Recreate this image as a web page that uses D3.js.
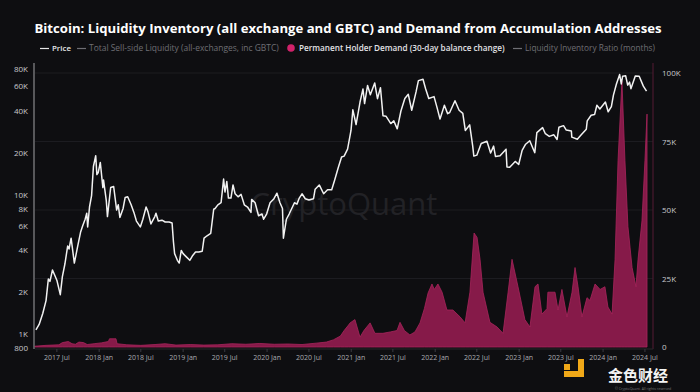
<!DOCTYPE html>
<html>
<head>
<meta charset="utf-8">
<script src="https://cdn.jsdelivr.net/npm/d3@7"></script>
<style>
  html, body { margin: 0; padding: 0; background: #0e0e11; }
  svg { display: block; }
</style>
</head>
<body>
<div id="chart"></div>
<script>
const width = 700;
const height = 392;

// price (USD)
const price = [
  ["2017-04-01", 1080], ["2017-04-15", 1180], ["2017-05-01", 1420], ["2017-05-15", 1750],
  ["2017-05-25", 2500], ["2017-06-01", 2400], ["2017-06-12", 2900], ["2017-06-20", 2700],
  ["2017-07-01", 2450], ["2017-07-16", 1930], ["2017-07-25", 2600], ["2017-08-05", 3200],
  ["2017-08-17", 4300], ["2017-08-23", 4100], ["2017-09-01", 4900], ["2017-09-15", 3250],
  ["2017-09-22", 3700], ["2017-10-01", 4400], ["2017-10-12", 5400], ["2017-10-21", 6000],
  ["2017-11-01", 6700], ["2017-11-08", 7400], ["2017-11-12", 5900], ["2017-11-20", 8200],
  ["2017-11-29", 9900], ["2017-12-07", 16000], ["2017-12-17", 19100], ["2017-12-22", 14000],
  ["2017-12-28", 14500], ["2018-01-06", 17100], ["2018-01-17", 11300], ["2018-01-20", 12800],
  ["2018-02-01", 9100], ["2018-02-06", 7000], ["2018-02-20", 11300], ["2018-03-05", 11500],
  ["2018-03-18", 7800], ["2018-03-25", 8500], ["2018-04-01", 6900], ["2018-04-15", 8000],
  ["2018-04-24", 9600], ["2018-05-05", 9700], ["2018-05-20", 8500], ["2018-06-01", 7500],
  ["2018-06-12", 6500], ["2018-06-29", 5900], ["2018-07-10", 6700], ["2018-07-24", 8200],
  ["2018-08-01", 7600], ["2018-08-14", 6200], ["2018-08-31", 7000], ["2018-09-05", 7400],
  ["2018-09-15", 6500], ["2018-10-01", 6600], ["2018-10-15", 6400], ["2018-11-01", 6400],
  ["2018-11-14", 6300], ["2018-11-20", 4600], ["2018-11-25", 3800], ["2018-12-07", 3400],
  ["2018-12-15", 3250], ["2018-12-24", 4000], ["2019-01-01", 3800], ["2019-01-15", 3600],
  ["2019-01-30", 3400], ["2019-02-10", 3650], ["2019-02-24", 3900], ["2019-03-10", 3900],
  ["2019-03-25", 3950], ["2019-04-02", 4900], ["2019-04-15", 5100], ["2019-05-01", 5300],
  ["2019-05-14", 7900], ["2019-05-20", 8000], ["2019-06-01", 8500], ["2019-06-15", 8800],
  ["2019-06-26", 13000], ["2019-07-02", 10500], ["2019-07-10", 12500], ["2019-07-17", 9500],
  ["2019-07-28", 9500], ["2019-08-06", 11800], ["2019-08-15", 10200], ["2019-08-28", 9700],
  ["2019-09-10", 10100], ["2019-09-24", 8500], ["2019-10-08", 8200], ["2019-10-23", 7500],
  ["2019-10-26", 9300], ["2019-11-10", 8800], ["2019-11-25", 7100], ["2019-12-10", 7300],
  ["2019-12-17", 6700], ["2019-12-30", 7300], ["2020-01-14", 8800], ["2020-01-31", 9400],
  ["2020-02-13", 10300], ["2020-02-26", 8800], ["2020-03-08", 8000], ["2020-03-12", 4900],
  ["2020-03-25", 6700], ["2020-04-06", 7300], ["2020-04-29", 8800], ["2020-05-10", 8600],
  ["2020-05-20", 9500], ["2020-06-01", 10200], ["2020-06-15", 9400], ["2020-07-01", 9200],
  ["2020-07-21", 9400], ["2020-07-28", 11000], ["2020-08-15", 11800], ["2020-09-03", 10200],
  ["2020-09-20", 10900], ["2020-10-08", 10900], ["2020-10-21", 12800], ["2020-11-05", 15600],
  ["2020-11-20", 18700], ["2020-12-01", 19000], ["2020-12-16", 21300], ["2020-12-31", 29000],
  ["2021-01-08", 40800], ["2021-01-22", 32000], ["2021-02-08", 46200], ["2021-02-21", 57500],
  ["2021-02-28", 45200], ["2021-03-13", 61000], ["2021-03-25", 52300], ["2021-04-13", 63500],
  ["2021-04-25", 49000], ["2021-05-08", 58800], ["2021-05-19", 37000], ["2021-06-01", 36700],
  ["2021-06-22", 32500], ["2021-07-05", 34000], ["2021-07-20", 29800], ["2021-08-05", 40000],
  ["2021-08-22", 49200], ["2021-09-06", 52700], ["2021-09-21", 40500], ["2021-10-10", 55000],
  ["2021-10-20", 66000], ["2021-11-09", 67500], ["2021-11-20", 58000], ["2021-12-04", 49200],
  ["2021-12-27", 50700], ["2022-01-10", 41800], ["2022-01-22", 35000], ["2022-02-10", 44000],
  ["2022-02-24", 38300], ["2022-03-05", 39000], ["2022-03-28", 47400], ["2022-04-15", 40500],
  ["2022-05-01", 38500], ["2022-05-12", 29000], ["2022-05-31", 31800], ["2022-06-13", 22500],
  ["2022-06-18", 19000], ["2022-07-01", 19300], ["2022-07-20", 23400], ["2022-08-14", 24300],
  ["2022-08-30", 20000], ["2022-09-12", 22400], ["2022-09-20", 18900], ["2022-10-10", 19100],
  ["2022-10-28", 20600], ["2022-11-05", 21300], ["2022-11-09", 15900], ["2022-11-21", 15800],
  ["2022-12-15", 17400], ["2022-12-30", 16550], ["2023-01-14", 20900], ["2023-01-28", 23000],
  ["2023-02-16", 24500], ["2023-03-10", 20100], ["2023-03-19", 28000], ["2023-04-13", 30400],
  ["2023-04-25", 27500], ["2023-05-12", 26300], ["2023-06-01", 27000], ["2023-06-15", 25000],
  ["2023-06-23", 30600], ["2023-07-13", 31400], ["2023-07-25", 29200], ["2023-08-16", 28800],
  ["2023-08-18", 26000], ["2023-09-11", 25100], ["2023-09-28", 27000], ["2023-10-20", 29600],
  ["2023-10-24", 34000], ["2023-11-10", 37300], ["2023-11-25", 37700], ["2023-12-05", 44000],
  ["2023-12-18", 41300], ["2024-01-11", 46400], ["2024-01-23", 39500], ["2024-02-06", 43000],
  ["2024-02-15", 52000], ["2024-02-28", 62500], ["2024-03-13", 73000], ["2024-03-20", 62500],
  ["2024-03-26", 71000], ["2024-04-08", 71600], ["2024-04-17", 61300], ["2024-04-25", 64500],
  ["2024-05-01", 57800], ["2024-05-20", 71400], ["2024-06-06", 71000], ["2024-06-24", 60300],
  ["2024-07-05", 56500], ["2024-07-08", 55500]
];

// permanent holder demand, 30-day balance change (BTC)
const demand = [
  ["2017-03-28", 300], ["2017-05-15", 600], ["2017-07-10", 800], ["2017-07-25", 1600],
  ["2017-08-20", 2000], ["2017-09-05", 1200], ["2017-09-20", 1000], ["2017-10-05", 1800],
  ["2017-10-25", 1600], ["2017-11-10", 900], ["2017-12-10", 1200], ["2018-01-10", 1500],
  ["2018-02-10", 2000], ["2018-02-15", 3000], ["2018-03-15", 3000], ["2018-03-20", 1200],
  ["2018-05-01", 800], ["2018-07-01", 600], ["2018-09-01", 900], ["2018-10-15", 1200],
  ["2018-12-01", 700], ["2019-02-01", 900], ["2019-04-01", 700], ["2019-06-01", 800],
  ["2019-08-01", 1200], ["2019-10-01", 1000], ["2019-12-01", 1300], ["2020-02-01", 1000],
  ["2020-04-01", 1100], ["2020-06-01", 900], ["2020-08-01", 1400], ["2020-09-15", 1800],
  ["2020-10-15", 2600], ["2020-11-15", 4000], ["2020-12-01", 6000], ["2020-12-20", 8000],
  ["2020-12-27", 8800], ["2021-01-17", 10000], ["2021-02-08", 3600], ["2021-02-25", 6000],
  ["2021-03-24", 8800], ["2021-04-14", 5000], ["2021-05-19", 5000], ["2021-06-20", 5500],
  ["2021-07-19", 6000], ["2021-08-01", 9000], ["2021-08-20", 6000], ["2021-09-13", 4400],
  ["2021-10-05", 5500], ["2021-10-27", 8800], ["2021-11-15", 14000], ["2021-12-01", 19700],
  ["2021-12-18", 23000], ["2021-12-28", 21000], ["2022-01-13", 23000], ["2022-01-31", 20000],
  ["2022-02-21", 13500], ["2022-03-19", 13500], ["2022-04-19", 11000], ["2022-05-11", 8800],
  ["2022-06-01", 20000], ["2022-06-19", 41600], ["2022-07-02", 40000], ["2022-07-15", 32000],
  ["2022-07-28", 20000], ["2022-08-27", 9000], ["2022-09-27", 7300], ["2022-10-23", 5000],
  ["2022-11-14", 20000], ["2022-12-01", 32000], ["2022-12-27", 22000], ["2023-01-26", 10000],
  ["2023-02-17", 7300], ["2023-03-11", 22000], ["2023-03-24", 23000], ["2023-04-10", 12000],
  ["2023-05-02", 14000], ["2023-05-06", 20000], ["2023-06-06", 20000], ["2023-06-19", 13500],
  ["2023-07-06", 21000], ["2023-07-28", 11000], ["2023-08-19", 20000], ["2023-09-01", 29000],
  ["2023-09-14", 22000], ["2023-10-01", 11000], ["2023-10-23", 18000], ["2023-11-05", 17000],
  ["2023-11-27", 23000], ["2023-12-19", 21000], ["2024-01-09", 22000], ["2024-01-22", 14600],
  ["2024-02-09", 12000], ["2024-02-22", 32000], ["2024-03-06", 68000], ["2024-03-23", 97000],
  ["2024-04-05", 68000], ["2024-04-18", 44000], ["2024-05-06", 29000], ["2024-05-23", 22000],
  ["2024-06-01", 32000], ["2024-06-18", 46000], ["2024-07-01", 68000], ["2024-07-10", 85000]
];

const leftTicks = [800, 1000, 2000, 4000, 6000, 8000, 10000, 20000, 40000, 60000, 80000];
const leftLabels = ["800", "1K", "2K", "4K", "6K", "8K", "10K", "20K", "40K", "60K", "80K"];
const rightTicks = [0, 25000, 50000, 75000, 100000];
const rightLabels = ["0", "25K", "50K", "75K", "100K"];
const xTickDates = ["2017-07-01", "2018-01-01", "2018-07-01", "2019-01-01", "2019-07-01",
  "2020-01-01", "2020-07-01", "2021-01-01", "2021-07-01", "2022-01-01", "2022-07-01",
  "2023-01-01", "2023-07-01", "2024-01-01", "2024-07-01"];

const title = "Bitcoin: Liquidity Inventory (all exchange and GBTC) and Demand from Accumulation Addresses";

const parse = d3.timeParse("%Y-%m-%d");
const priceData = price.map(d => ({ date: parse(d[0]), value: d[1] }));
const demandData = demand.map(d => ({ date: parse(d[0]), value: d[1] }));

const plotLeft = 35, plotRight = 653, plotTop = 63, plotBottom = 348;

const x = d3.scaleTime()
  .domain([parse("2017-03-28"), parse("2024-08-05")])
  .range([plotLeft, plotRight]);

const yLeft = d3.scaleLog()
  .domain([800, 80000])
  .range([348, 69]);

const yRight = d3.scaleLinear()
  .domain([0, 100000])
  .range([347, 73]);

const svg = d3.select("#chart")
  .append("svg")
  .attr("width", width)
  .attr("height", height)
  .style("background", "#0e0e11");

// faint horizontal grid from the right axis
svg.append("g")
  .selectAll("line")
  .data(rightTicks.slice(1))
  .join("line")
  .attr("x1", plotLeft)
  .attr("x2", plotRight)
  .attr("y1", d => yRight(d))
  .attr("y2", d => yRight(d))
  .attr("stroke", "#1c1c21")
  .attr("stroke-width", 1);

// watermark
svg.append("text")
  .attr("x", 344)
  .attr("y", 215)
  .attr("text-anchor", "middle")
  .attr("font-family", "'Open Sans', sans-serif")
  .attr("font-size", 31)
  .attr("fill", "#222226")
  .text("CryptoQuant");

// demand area
const area = d3.area()
  .x(d => x(d.date))
  .y0(yRight(0))
  .y1(d => yRight(d.value));

svg.append("path")
  .datum(demandData)
  .attr("d", area)
  .attr("fill", "#861a49")
  .attr("stroke", "#a8245c")
  .attr("stroke-width", 0.8);

// price line
const line = d3.line()
  .x(d => x(d.date))
  .y(d => yLeft(d.value));

svg.append("path")
  .datum(priceData)
  .attr("d", line)
  .attr("fill", "none")
  .attr("stroke", "#f2f2f2")
  .attr("stroke-width", 1.5)
  .attr("stroke-linejoin", "round");

// axes lines
svg.append("line")
  .attr("x1", 34).attr("x2", 34)
  .attr("y1", plotTop).attr("y2", plotBottom + 1)
  .attr("stroke", "#8a8a8e").attr("stroke-width", 1.2);

svg.append("line")
  .attr("x1", plotRight).attr("x2", plotRight)
  .attr("y1", plotTop).attr("y2", plotBottom + 1)
  .attr("stroke", "#4a1a30").attr("stroke-width", 1.2);

svg.append("line")
  .attr("x1", plotLeft).attr("x2", plotRight)
  .attr("y1", plotBottom + 1).attr("y2", plotBottom + 1)
  .attr("stroke", "#26262b").attr("stroke-width", 1);

const tickFont = "'Open Sans', sans-serif";

svg.append("g")
  .selectAll("text")
  .data(leftTicks)
  .join("text")
  .attr("x", 28)
  .attr("y", d => yLeft(d) + 3)
  .attr("text-anchor", "end")
  .attr("font-family", tickFont)
  .attr("font-size", 8)
  .attr("fill", "#c8c8cc")
  .text((d, i) => leftLabels[i]);

svg.append("g")
  .selectAll("text")
  .data(rightTicks)
  .join("text")
  .attr("x", 662)
  .attr("y", d => yRight(d) + 3)
  .attr("text-anchor", "start")
  .attr("font-family", tickFont)
  .attr("font-size", 8)
  .attr("fill", "#c8c8cc")
  .text((d, i) => rightLabels[i]);

const xTicks = svg.append("g")
  .selectAll("g")
  .data(xTickDates.map(parse))
  .join("g")
  .attr("transform", d => `translate(${x(d)},0)`);

xTicks.append("line")
  .attr("y1", plotBottom + 1)
  .attr("y2", plotBottom + 4)
  .attr("stroke", "#3a3a40");

xTicks.append("text")
  .attr("y", 360)
  .attr("text-anchor", "middle")
  .attr("font-family", tickFont)
  .attr("font-size", 7)
  .attr("fill", "#aaaaaf")
  .text(d => d3.timeFormat("%Y %b")(d));

// title
const titleText = svg.append("text")
  .attr("x", 348)
  .attr("y", 33)
  .attr("text-anchor", "middle")
  .attr("font-family", "'Open Sans', sans-serif")
  .attr("font-weight", "bold")
  .attr("font-size", 13)
  .attr("fill", "#ffffff")
  .text(title);
// stretch font so it spans the same width as the original
const tw = titleText.node().getComputedTextLength();
titleText.attr("font-size", 13 * 628 / tw);

// legend
const legendY = 51;
const legendItems = [
  { x: 40, label: "Price", color: "#e6e6e6", mark: "line" },
  { x: 77, label: "Total Sell-side Liquidity (all-exchanges, inc GBTC)", color: "#6e6e74", mark: "line" },
  { x: 287, label: "Permanent Holder Demand (30-day balance change)", color: "#e2e2e6", mark: "dot" },
  { x: 513, label: "Liquidity Inventory Ratio (months)", color: "#6e6e74", mark: "line" }
];
const legendEnds = [71, 279, 505, 655];

legendItems.forEach((item, i) => {
  const g = svg.append("g").attr("transform", `translate(${item.x},${legendY})`);
  let tx;
  if (item.mark === "line") {
    g.append("line")
      .attr("x1", 0).attr("x2", 9)
      .attr("y1", -2.5).attr("y2", -2.5)
      .attr("stroke", item.color).attr("stroke-width", 1.2);
    tx = 12;
  } else {
    g.append("circle")
      .attr("cx", 4).attr("cy", -3)
      .attr("r", 3.8)
      .attr("fill", "#d0226a");
    tx = 12;
  }
  const t = g.append("text")
    .attr("x", tx)
    .attr("font-family", "'Open Sans', sans-serif")
    .attr("font-size", 7.5)
    .attr("font-weight", item.color === "#6e6e74" ? "normal" : "600")
    .attr("fill", item.color)
    .text(item.label);
  const want = legendEnds[i] - item.x - tx;
  const have = t.node().getComputedTextLength();
  t.attr("font-size", 7.5 * want / have);
});

// bottom right site mark
const logo = svg.append("g");
logo.append("rect").attr("x", 564).attr("y", 364).attr("width", 6).attr("height", 6).attr("fill", "#f0a818");
logo.append("rect").attr("x", 578).attr("y", 359).attr("width", 6).attr("height", 18).attr("fill", "#f0a818");
logo.append("rect").attr("x", 564).attr("y", 371).attr("width", 20).attr("height", 6).attr("fill", "#f0a818");

svg.append("text")
  .attr("x", 638)
  .attr("y", 381)
  .attr("text-anchor", "middle")
  .attr("font-family", "'Noto Sans CJK SC', sans-serif")
  .attr("font-size", 15)
  .attr("font-weight", "bold")
  .attr("fill", "#f4f4f4")
  .text("金色财经");

svg.append("text")
  .attr("x", 643)
  .attr("y", 389.5)
  .attr("text-anchor", "middle")
  .attr("font-family", "'Open Sans', sans-serif")
  .attr("font-size", 3.5)
  .attr("fill", "#777")
  .text("© CryptoQuant. All rights reserved");
</script>
</body>
</html>
